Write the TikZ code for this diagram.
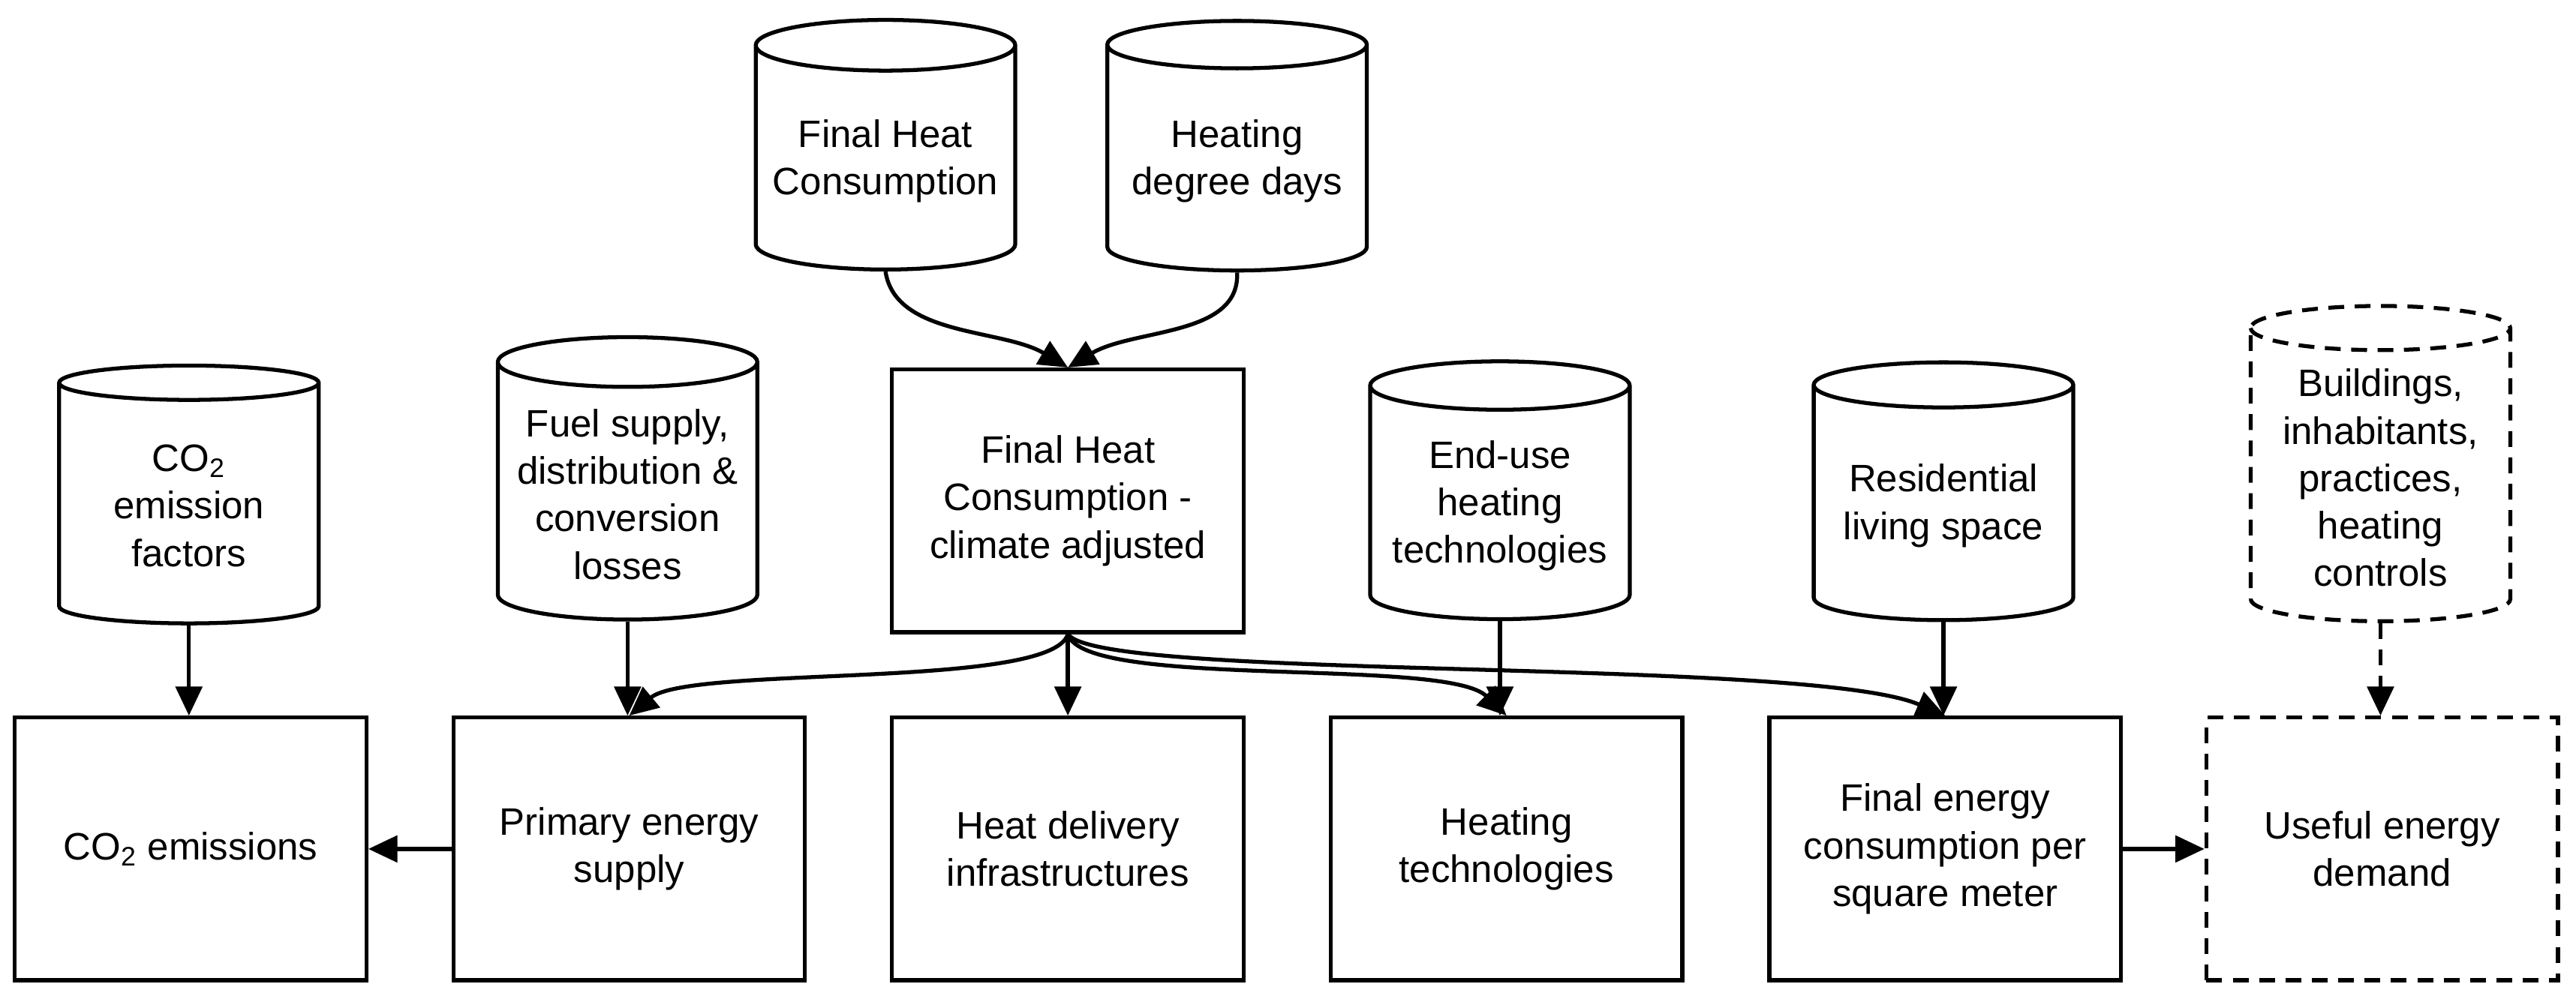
\documentclass[tikz,border=0pt]{standalone}
\usepackage{fontspec}
\setmainfont{Liberation Sans}
\usetikzlibrary{shapes.geometric,arrows.meta}
\begin{document}
\begin{tikzpicture}[x=0.02189cm,y=-0.02189cm,
  every node/.style={font=\fontsize{14.5}{18}\selectfont,align=center},
  dsh/.style={dash pattern=on 6pt off 4pt},
  box/.style={draw,line width=1.5pt,minimum width=214*0.02189cm,minimum height=160*0.02189cm,inner sep=2pt},
  cyl/.style={draw,line width=1.5pt,cylinder,shape border rotate=90,aspect=0.22,minimum width=158*0.02189cm,inner sep=1pt},
  arr/.style={line width=1.5pt,-{Triangle[length=11pt,width=10pt]}}]
\useasboundingbox (0,0) rectangle (1568,608);
\node[cyl,minimum height=152*0.02189cm] (fhc) at (539,98) {Final Heat\\Consumption};
\node[cyl,minimum height=152*0.02189cm] (hdd) at (753,98) {Heating\\degree days};
\node[box] (fca) at (650,305) {Final Heat\\Consumption -\\climate adjusted};
\node[cyl,minimum height=157*0.02189cm] (cef) at (115,308) {CO\textsubscript{2}\\emission\\factors};
\node[cyl,minimum height=172*0.02189cm] (fuel) at (382,301) {Fuel supply,\\distribution \&\\conversion\\losses};
\node[cyl,minimum height=157*0.02189cm] (end) at (913,308) {End-use\\heating\\technologies};
\node[cyl,minimum height=157*0.02189cm] (res) at (1183,308) {Residential\\living space};
\node[cyl,dsh,minimum height=192*0.02189cm] (bld) at (1449,291) {Buildings,\\inhabitants,\\practices,\\heating\\controls};
\node[box] (co2) at (116,517) {CO\textsubscript{2} emissions};
\node[box] (pes) at (383,517) {Primary energy\\supply};
\node[box] (hdi) at (650,517) {Heat delivery\\infrastructures};
\node[box] (ht) at (917,517) {Heating\\technologies};
\node[box] (fec) at (1184,517) {Final energy\\consumption per\\square meter};
\node[box,dsh] (ued) at (1450,517) {Useful energy\\demand};
\draw[arr] (fhc.south) .. controls (545,205) and (610,200) .. (fca.north);
\draw[arr] (hdd.south) .. controls (755,205) and (690,200) .. (fca.north);
\draw[arr] (fca.south) .. controls (640,420) and (420,405) .. (pes.north);
\draw[arr] (fca.south) -- (hdi.north);
\draw[arr] (fca.south) .. controls (660,420) and (880,400) .. (ht.north);
\draw[arr] (fca.south) .. controls (670,415) and (1100,400) .. (fec.north);
\draw[arr] (cef.south) -- (cef.south|-co2.north);
\draw[arr] (fuel.south) -- (fuel.south|-pes.north);
\draw[arr] (end.south) -- (end.south|-ht.north);
\draw[arr] (res.south) -- (res.south|-fec.north);
\draw[arr,dsh] (bld.south) -- (bld.south|-ued.north);
\draw[arr] (pes.west) -- (co2.east);
\draw[arr] (fec.east) -- (ued.west);
\end{tikzpicture}
\end{document}
